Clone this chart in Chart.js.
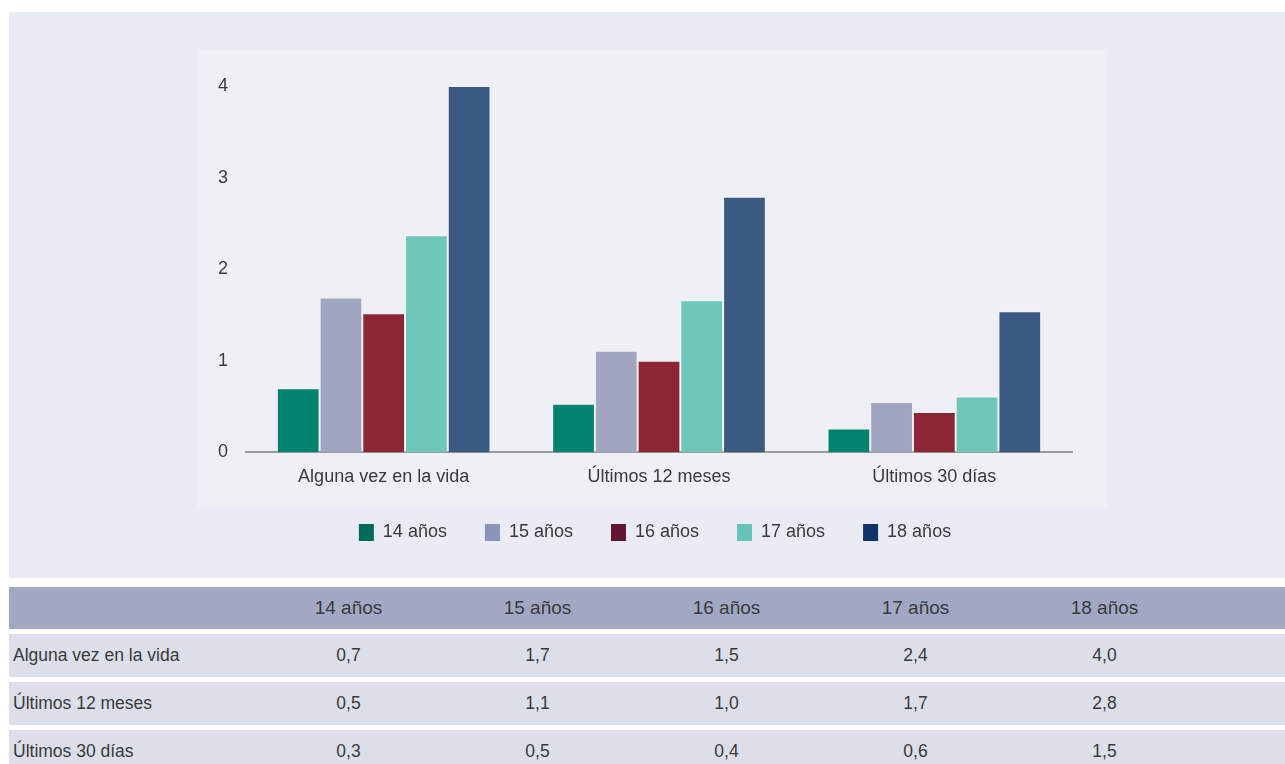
<!DOCTYPE html>
<html>
<head>
<meta charset="utf-8">
<script src="https://cdn.jsdelivr.net/npm/chart.js@4.4.1/dist/chart.umd.min.js"></script>
<style>
  body { margin: 0; background: #ffffff; font-family: "Liberation Sans", Arial, sans-serif; }
  #panel { position: absolute; left: 9px; top: 12px; width: 1276px; height: 566px; background: #e9ecf4; }
  #tabla { position: absolute; left: 9px; top: 582px; width: 1276px; table-layout: fixed; border-collapse: separate; border-spacing: 0 5px; color: #3a3a3a; }
  #tabla th { background: #a2a8c4; height: 42px; font-weight: normal; font-size: 19px; padding: 0; }
  #tabla td { background: #dcdeea; height: 43px; font-size: 17.5px; text-align: center; padding: 0; }
  #tabla td.etiqueta { text-align: left; padding-left: 4px; }
</style>
</head>
<body>
<div id="panel"><canvas id="canvas" width="1276" height="566"></canvas></div>
<table id="tabla"></table>
<script>
var categorias = ["Alguna vez en la vida", "Últimos 12 meses", "Últimos 30 días"];
var edades = ["14 años", "15 años", "16 años", "17 años", "18 años"];
var v14 = [0.70, 0.53, 0.26];
var v15 = [1.69, 1.11, 0.55];
var v16 = [1.52, 1.00, 0.44];
var v17 = [2.37, 1.66, 0.61];
var v18 = [4.00, 2.79, 1.54];
var ticksY = [0, 1, 2, 3, 4];

// Valores de la tabla (tal como aparecen impresos)
var tabla14 = [0.7, 0.5, 0.3];
var tabla15 = [1.7, 1.1, 0.5];
var tabla16 = [1.5, 1.0, 0.4];
var tabla17 = [2.4, 1.7, 0.6];
var tabla18 = [4.0, 2.8, 1.5];

var coloresBarra = ["#00826f", "#a0a5c0", "#8c2634", "#6cc7b9", "#3b5a82"];
var coloresLeyenda = ["#006b5a", "#8a94b8", "#641532", "#64c5b6", "#0f3468"];

var series = [v14, v15, v16, v17, v18];

/**
 * Dibuja el recuadro claro detrás del área del gráfico
 */
var fondoInterior = {
    id: 'fondoInterior',
    beforeDraw: function (chart) {
        var a = chart.chartArea;
        var ctx = chart.ctx;
        ctx.save();
        ctx.fillStyle = "#eff0f5";
        ctx.fillRect(a.left - 48, a.top - 37, (a.right + 35) - (a.left - 48), (a.bottom + 55) - (a.top - 37));
        ctx.restore();
    }
};

/**
 * Coloca la leyenda justo bajo el recuadro, un poco a la derecha
 */
var posicionLeyenda = {
    id: 'posicionLeyenda',
    afterLayout: function (chart) {
        var l = chart.legend;
        var alto = l.bottom - l.top;
        l.top = chart.chartArea.bottom + 33;
        l.bottom = l.top + alto;
        l.left += 19;
        l.right += 19;
    }
};

var chart = new Chart(document.getElementById("canvas"), {
    type: 'bar',
    data: {
        labels: categorias,
        datasets: series.map(function (s, i) {
            return {
                label: edades[i],
                data: s,
                backgroundColor: coloresBarra[i],
                borderColor: "rgba(255,255,255,0.25)",
                borderWidth: 1,
                categoryPercentage: 0.776,
                barPercentage: 1.0
            };
        })
    },
    options: {
        responsive: false,
        animation: false,
        layout: {
            padding: { left: 191, right: 213, top: 74, bottom: 10 }
        },
        plugins: {
            tooltip: { enabled: false },
            legend: {
                position: 'bottom',
                labels: {
                    boxWidth: 15,
                    boxHeight: 17,
                    padding: 38,
                    color: "#3a3a3a",
                    font: { family: "Liberation Sans", size: 18 },
                    generateLabels: function (chart) {
                        return chart.data.datasets.map(function (ds, i) {
                            return {
                                text: ds.label,
                                fillStyle: coloresLeyenda[i],
                                strokeStyle: coloresLeyenda[i],
                                lineWidth: 0,
                                fontColor: "#3a3a3a",
                                datasetIndex: i
                            };
                        });
                    }
                }
            }
        },
        scales: {
            x: {
                grid: { display: false, drawTicks: false },
                border: { display: true, color: "#9a9a9a", width: 2 },
                ticks: {
                    padding: 14,
                    color: "#3a3a3a",
                    font: { family: "Liberation Sans", size: 18 }
                }
            },
            y: {
                min: 0,
                max: 4,
                grid: { display: false, drawTicks: false },
                border: { display: false },
                ticks: {
                    stepSize: 1,
                    padding: 18,
                    color: "#3a3a3a",
                    font: { family: "Liberation Sans", size: 18 },
                    callback: function (v) {
                        return ticksY.indexOf(v) >= 0 ? String(v) : '';
                    }
                }
            }
        }
    },
    plugins: [fondoInterior, posicionLeyenda]
});

/**
 * Construye la tabla de datos bajo el gráfico
 */
function formato(v) {
    return v.toFixed(1).replace('.', ',');
}

function construirTabla() {
    var t = document.getElementById('tabla');
    var columnas = [tabla14, tabla15, tabla16, tabla17, tabla18];
    var html = '<colgroup><col style="width:245px">';
    edades.forEach(function () { html += '<col style="width:189px">'; });
    html += '<col style="width:86px"></colgroup>';
    html += '<tr><th></th>';
    edades.forEach(function (e) { html += '<th>' + e + '</th>'; });
    html += '<th></th></tr>';
    categorias.forEach(function (c, r) {
        html += '<tr><td class="etiqueta">' + c + '</td>';
        columnas.forEach(function (col) { html += '<td>' + formato(col[r]) + '</td>'; });
        html += '<td></td></tr>';
    });
    t.innerHTML = html;
}
construirTabla();
</script>
</body>
</html>
